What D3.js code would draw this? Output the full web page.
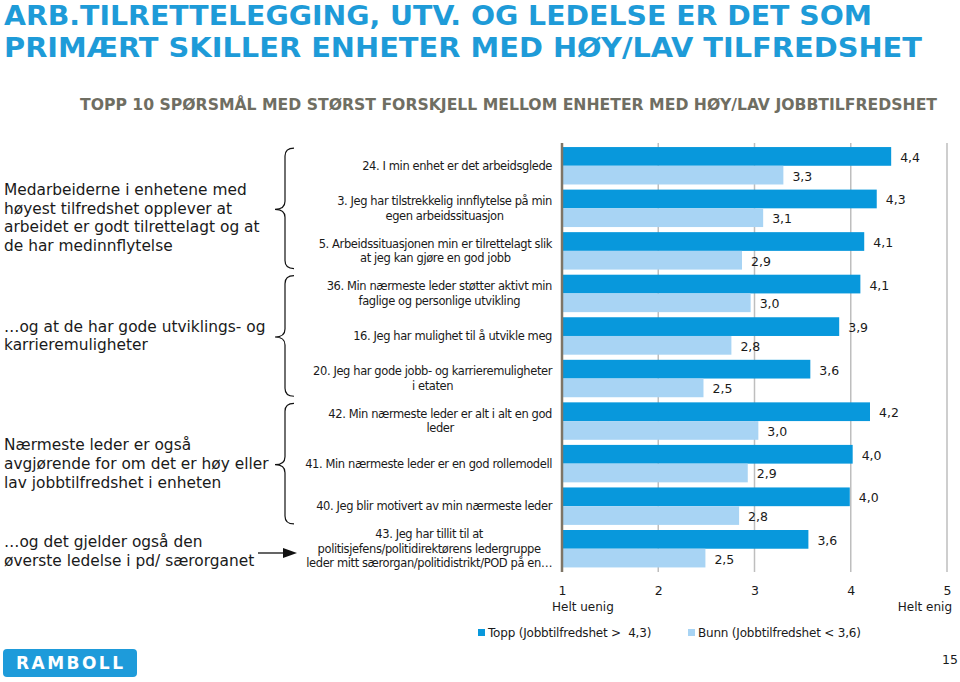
<!DOCTYPE html>
<html>
<head>
<meta charset="utf-8">
<script src="https://cdn.jsdelivr.net/npm/d3@7"></script>
<style>
  html, body { margin: 0; padding: 0; background: #fff; }
  svg { display: block; }
  text { font-family: "DejaVu Sans", Verdana, sans-serif; }
</style>
</head>
<body>
<svg id="chart" width="960" height="682"></svg>
<script>
// ---------- data ----------
const categories = [
  "24. I min enhet er det arbeidsglede",
  "3. Jeg har tilstrekkelig innflytelse på min|egen arbeidssituasjon",
  "5. Arbeidssituasjonen min er tilrettelagt slik|at jeg kan gjøre en god jobb",
  "36. Min nærmeste leder støtter aktivt min|faglige og personlige utvikling",
  "16. Jeg har mulighet til å utvikle meg",
  "20. Jeg har gode jobb- og karrieremuligheter|i etaten",
  "42. Min nærmeste leder er alt i alt en god|leder",
  "41. Min nærmeste leder er en god rollemodell",
  "40. Jeg blir motivert av min nærmeste leder",
  "43. Jeg har tillit til at|politisjefens/politidirektørens ledergruppe|leder mitt særorgan/politidistrikt/POD på en…"
];
const toppValues = [4.42, 4.27, 4.14, 4.10, 3.88, 3.58, 4.20, 4.02, 3.99, 3.56];
const bunnValues = [3.30, 3.09, 2.87, 2.96, 2.76, 2.47, 3.04, 2.93, 2.84, 2.49];
const seriesNames = ["Topp (Jobbtilfredshet >  4,3)", "Bunn (Jobbtilfredshet < 3,6)"];
const tickValues = [1, 2, 3, 4, 5];
const scaleEndLabels = ["Helt uenig", "Helt enig"];
const titleLines = [
  "ARB.TILRETTELEGGING, UTV. OG LEDELSE ER DET SOM",
  "PRIMÆRT SKILLER ENHETER MED HØY/LAV TILFREDSHET"
];
const subtitle = "TOPP 10 SPØRSMÅL MED STØRST FORSKJELL MELLOM ENHETER MED HØY/LAV JOBBTILFREDSHET";
const groupNotes = [
  { from: 0, to: 2, lines: ["Medarbeiderne i enhetene med", "høyest tilfredshet opplever at", "arbeidet er godt tilrettelagt og at", "de har medinnflytelse"] },
  { from: 3, to: 5, lines: ["…og at de har gode utviklings- og", "karrieremuligheter"] },
  { from: 6, to: 8, lines: ["Nærmeste leder er også", "avgjørende for om det er høy eller", "lav jobbtilfredshet i enheten"] }
];
const arrowNote = { at: 9, lines: ["…og det gjelder også den", "øverste ledelse i pd/ særorganet"] };

// ---------- style ----------
const colTopp = "#0898DC";
const colBunn = "#A8D4F4";
const colTitle = "#1E9BD8";
const fmt = v => d3.format(".1f")(v).replace(".", ",");

const svg = d3.select("#chart");

// titles
svg.selectAll("text.title").data(titleLines).enter().append("text")
  .attr("class", "title")
  .attr("x", 4).attr("y", (d, i) => 25 + i * 32)
  .attr("textLength", (d, i) => i === 0 ? 868 : 918)
  .attr("lengthAdjust", "spacingAndGlyphs")
  .style("font-family", "'DejaVu Sans Condensed', 'DejaVu Sans', sans-serif")
  .style("font-weight", "bold").style("font-size", "27px")
  .attr("fill", colTitle).text(d => d);

svg.append("text")
  .attr("x", 80).attr("y", 110)
  .attr("textLength", 857).attr("lengthAdjust", "spacingAndGlyphs")
  .style("font-family", "'DejaVu Sans Condensed', 'DejaVu Sans', sans-serif")
  .style("font-weight", "bold").style("font-size", "16px")
  .attr("fill", "#6F6E62").text(subtitle);

// scales
const x = d3.scaleLinear().domain([1, 5]).range([562, 947]);
const y = d3.scaleBand().domain(d3.range(categories.length))
  .range([144.5, 570]).paddingInner(0.12).paddingOuter(0.06);
const yInner = d3.scaleBand().domain([0, 1]).range([0, y.bandwidth()]);

// gridlines
svg.append("g").selectAll("line").data(tickValues.slice(1)).enter().append("line")
  .attr("x1", d => x(d)).attr("x2", d => x(d))
  .attr("y1", 143).attr("y2", 572)
  .attr("stroke", "#BEBEBE").attr("stroke-width", 1.5);

// bars
const groups = svg.append("g").selectAll("g").data(categories).enter().append("g")
  .attr("transform", (d, i) => `translate(0,${y(i)})`);

const series = [toppValues, bunnValues];
const colors = [colTopp, colBunn];
series.forEach((vals, s) => {
  groups.append("rect")
    .attr("x", x(1))
    .attr("y", yInner(s))
    .attr("width", (d, i) => x(vals[i]) - x(1))
    .attr("height", yInner.bandwidth())
    .attr("fill", colors[s]);
  groups.append("text")
    .attr("x", (d, i) => x(vals[i]) + 9)
    .attr("y", yInner(s) + yInner.bandwidth() / 2 + 1)
    .attr("dominant-baseline", "central")
    .style("font-size", "12.5px").attr("fill", "#1a1a1a")
    .text((d, i) => fmt(vals[i]));
});

// axis line
svg.append("line").attr("x1", x(1)).attr("x2", x(1)).attr("y1", 143).attr("y2", 572)
  .attr("stroke", "#7E7566").attr("stroke-width", 2.5);

// x axis
const xAxis = svg.append("g").attr("transform", "translate(0,583)")
  .call(d3.axisBottom(x).tickValues(tickValues).tickSize(0).tickFormat(d3.format("d")));
xAxis.select(".domain").remove();
xAxis.selectAll("text").style("font-family", "'DejaVu Sans', sans-serif")
  .style("font-size", "12.5px").attr("fill", "#1a1a1a");
svg.append("text").attr("x", x(1) - 10).attr("y", 611).style("font-size", "12px")
  .attr("fill", "#1a1a1a").text(scaleEndLabels[0]);
svg.append("text").attr("x", x(5) + 5).attr("y", 611).attr("text-anchor", "end")
  .style("font-size", "12px").attr("fill", "#1a1a1a").text(scaleEndLabels[1]);

// category labels (wrapped, centered, block right-aligned)
const labelRight = 552;
const lineH = 14.5;
categories.forEach((c, i) => {
  const lines = c.split("|");
  const g = svg.append("g");
  const cy = y(i) + y.bandwidth() / 2;
  const texts = lines.map((ln, k) => g.append("text")
    .attr("y", cy + (k - (lines.length - 1) / 2) * lineH)
    .attr("dominant-baseline", "central")
    .attr("text-anchor", "middle")
    .style("font-size", "11.5px").style("letter-spacing", "-0.4px")
    .attr("fill", "#1a1a1a")
    .text(ln));
  const maxW = d3.max(texts, t => t.node().getComputedTextLength());
  texts.forEach(t => t.attr("x", labelRight - maxW / 2));
});

// braces
function bracePath(x0, yTop, yBot, yTip) {
  const spine = x0 + 10, end = x0 + 19, r = 8;
  return `M${end},${yTop} Q${spine},${yTop} ${spine},${yTop + r}` +
    ` L${spine},${yTip - r} Q${spine},${yTip} ${x0},${yTip}` +
    ` Q${spine},${yTip} ${spine},${yTip + r}` +
    ` L${spine},${yBot - r} Q${spine},${yBot} ${end},${yBot}`;
}
groupNotes.forEach(n => {
  const yTop = y(n.from) + 1, yBot = y(n.to) + y.bandwidth() - 1;
  const yTip = (yTop + yBot) / 2 + 1;
  svg.append("path").attr("d", bracePath(275, yTop, yBot, yTip))
    .attr("fill", "none").attr("stroke", "#111").attr("stroke-width", 1.2);
});

// left notes
const noteLineH = 18.7;
const noteCenters = [218, 336, 464];
groupNotes.forEach((n, j) => {
  n.lines.forEach((ln, k) => {
    svg.append("text").attr("x", 4)
      .attr("y", noteCenters[j] + (k - (n.lines.length - 1) / 2) * noteLineH)
      .attr("dominant-baseline", "central")
      .style("font-size", "15.4px").attr("fill", "#1a1a1a").text(ln);
  });
});
arrowNote.lines.forEach((ln, k) => {
  svg.append("text").attr("x", 4)
    .attr("y", 551.5 + (k - 0.5) * noteLineH)
    .attr("dominant-baseline", "central")
    .style("font-size", "15.4px").attr("fill", "#1a1a1a").text(ln);
});
// arrow
svg.append("line").attr("x1", 258).attr("x2", 285).attr("y1", 553).attr("y2", 553)
  .attr("stroke", "#111").attr("stroke-width", 1.3);
svg.append("path").attr("d", "M283,548 L297,553 L283,558 Z").attr("fill", "#111");

// legend
const legend = svg.append("g");
const legX = [478, 688];
seriesNames.forEach((nm, s) => {
  legend.append("rect").attr("x", legX[s]).attr("y", 629).attr("width", 7).attr("height", 7)
    .attr("fill", colors[s]);
  legend.append("text").attr("x", legX[s] + 10).attr("y", 633)
    .attr("dominant-baseline", "central")
    .style("font-size", "12px").style("letter-spacing", "-0.2px").style("white-space", "pre")
    .attr("fill", "#1a1a1a").text(nm);
});

// page number
svg.append("text").attr("x", 958).attr("y", 664).attr("text-anchor", "end")
  .style("font-size", "12.5px").attr("fill", "#1a1a1a").text("15");

// logo
svg.append("rect").attr("x", 3).attr("y", 649).attr("width", 134).attr("height", 28)
  .attr("rx", 4).attr("fill", "#1E9BDA");
svg.append("text").attr("x", 16).attr("y", 669)
  .attr("textLength", 107).attr("lengthAdjust", "spacing")
  .style("font-family", "'DejaVu Sans', sans-serif").style("font-weight", "bold")
  .style("font-size", "17px").attr("fill", "#fff").text("RAMBOLL");
</script>
</body>
</html>
